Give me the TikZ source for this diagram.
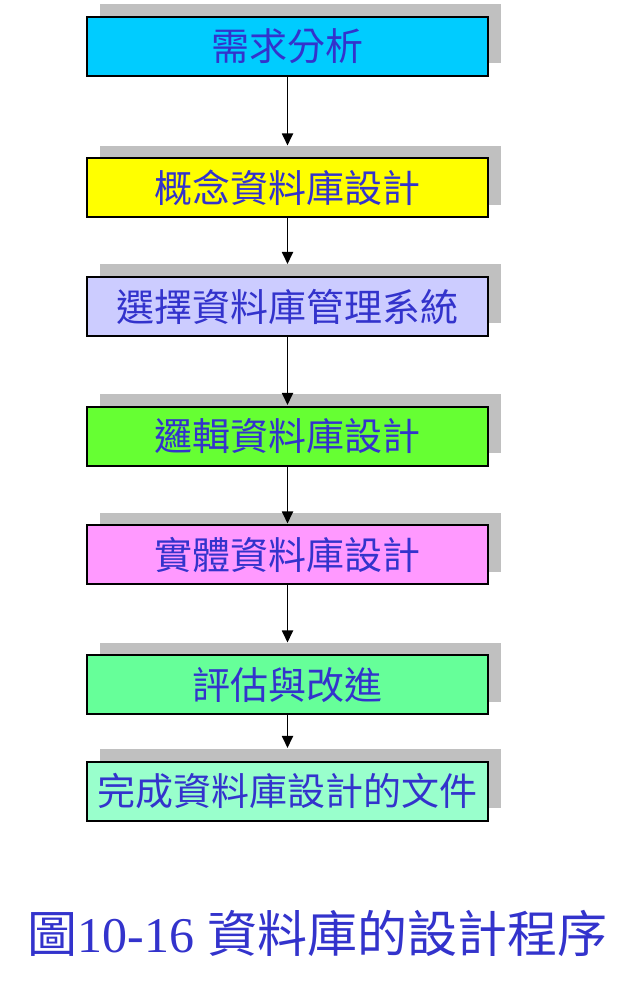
\documentclass[tikz,border=0pt]{standalone}
\usepackage{fontspec}
\setmainfont{Liberation Serif}
\newfontfamily\cjk{Noto Sans CJK TC}
\usetikzlibrary{arrows.meta,calc}
\definecolor{txtblue}{RGB}{51,51,204}
\definecolor{shadowgray}{RGB}{192,192,192}
\definecolor{c1}{RGB}{0,204,255}
\definecolor{c2}{RGB}{255,255,0}
\definecolor{c3}{RGB}{204,204,255}
\definecolor{c4}{RGB}{102,255,51}
\definecolor{c5}{RGB}{255,153,255}
\definecolor{c6}{RGB}{102,255,153}
\definecolor{c7}{RGB}{153,255,204}
\tikzset{
  stepbox/.style={draw=black, line width=2pt, minimum width=401pt, minimum height=59pt,
    inner sep=0pt, text=txtblue, font=\cjk\fontsize{38}{40}\selectfont,
    preaction={fill=shadowgray, draw=none, transform canvas={xshift=12.5pt, yshift=12.5pt}}},
  flow/.style={line width=1.8pt, -{Triangle[length=12pt,width=11pt]}}
}
\begin{document}
\begin{tikzpicture}[x=1pt,y=1pt]
\useasboundingbox (0,0) rectangle (640,990);
\fill[white] (0,0) rectangle (640,990);
\node[stepbox, fill=c1] (b1) at (287.5,943.5) {需求分析};
\node[stepbox, fill=c2] (b2) at (287.5,802) {概念資料庫設計};
\node[stepbox, fill=c3] (b3) at (287.5,683.5) {選擇資料庫管理系統};
\node[stepbox, fill=c4] (b4) at (287.5,553.5) {邏輯資料庫設計};
\node[stepbox, fill=c5] (b5) at (287.5,435) {實體資料庫設計};
\node[stepbox, fill=c6] (b6) at (287.5,305) {評估與改進};
\node[stepbox, fill=c7] (b7) at (287.5,198.5) {完成資料庫設計的文件};
\coordinate (e2) at ($(b2.north)+(0,12)$);
\coordinate (e3) at ($(b3.north)+(0,12)$);
\coordinate (e4) at ($(b4.north)+(0,1)$);
\coordinate (e5) at ($(b5.north)+(0,1)$);
\coordinate (e6) at ($(b6.north)+(0,12)$);
\coordinate (e7) at ($(b7.north)+(0,13)$);
\draw[flow] (b1.south) -- (e2);
\draw[flow] (b2.south) -- (e3);
\draw[flow] (b3.south) -- (e4);
\draw[flow] (b4.south) -- (e5);
\draw[flow] (b5.south) -- (e6);
\draw[flow] (b6.south) -- (e7);
\node[text=txtblue, font=\fontsize{50}{52}\selectfont, inner sep=0pt] (cap) at (317.5,57) {{\cjk 圖}10-16 {\cjk 資料庫的設計程序}};
\end{tikzpicture}
\end{document}
